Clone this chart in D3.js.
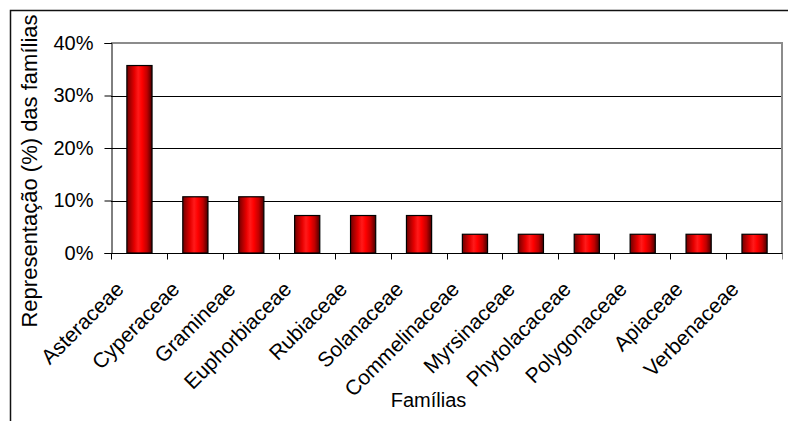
<!DOCTYPE html>
<html>
<head>
<meta charset="utf-8">
<script src="https://cdn.jsdelivr.net/npm/d3@7"></script>
<style>
  html, body { margin: 0; padding: 0; background: #fff; }
  svg { display: block; font-family: "Liberation Sans", Arial, sans-serif; }
</style>
</head>
<body>
<svg id="chart" width="789" height="421"></svg>
<script>
// Families and their share (%) of the surveyed species (n / 28)
const families = ["Asteraceae", "Cyperaceae", "Gramineae", "Euphorbiaceae", "Rubiaceae",
  "Solanaceae", "Commelinaceae", "Myrsinaceae", "Phytolacaceae", "Polygonaceae",
  "Apiaceae", "Verbenaceae"];
const shares = [35.71, 10.71, 10.71, 7.14, 7.14, 7.14, 3.57, 3.57, 3.57, 3.57, 3.57, 3.57];
const yTicks = [0, 10, 20, 30, 40];

const svg = d3.select("#chart");
const plot = { left: 111, right: 782, top: 43, bottom: 253 };
const FONT = "Liberation Sans, Arial, sans-serif";

// Gradient used for the bars: dark edges, bright red centre
const grad = svg.append("defs").append("linearGradient")
  .attr("id", "barFill").attr("x1", "0%").attr("x2", "100%").attr("y1", "0%").attr("y2", "0%");
[[0, "#6e0000"], [0.12, "#a00000"], [0.3, "#e60000"], [0.45, "#ff1a1a"], [0.6, "#ff0000"],
 [0.8, "#c00000"], [1, "#4a0000"]].forEach(([o, c]) =>
  grad.append("stop").attr("offset", o).attr("stop-color", c));

// Outer chart frame (extends past the visible edge)
svg.append("path")
  .attr("d", "M10.5,430 L10.5,10.5 L788,10.5")
  .attr("fill", "none").attr("stroke", "#111").attr("stroke-width", 1.5);

const x = d3.scaleBand().domain(families).range([plot.left, plot.right])
  .paddingInner(0.55).paddingOuter(0.275);
const y = d3.scaleLinear().domain([0, 40]).range([plot.bottom, plot.top]);

// Horizontal gridlines
svg.append("g").selectAll("line").data(yTicks.filter(t => t > 0 && t < 40)).join("line")
  .attr("x1", plot.left).attr("x2", plot.right)
  .attr("y1", d => Math.round(y(d)) + 0.5).attr("y2", d => Math.round(y(d)) + 0.5)
  .attr("stroke", "#000").attr("stroke-width", 1);

// Plot area border (top and right)
svg.append("path")
  .attr("d", `M${plot.left},${plot.top} L${plot.right},${plot.top} L${plot.right},${plot.bottom}`)
  .attr("fill", "none").attr("stroke", "#8c8c8c").attr("stroke-width", 2);

// Bars
svg.append("g").selectAll("rect").data(families).join("rect")
  .attr("x", d => x(d) + 0.5)
  .attr("y", (d, i) => y(shares[i]))
  .attr("width", x.bandwidth())
  .attr("height", (d, i) => y(0) - y(shares[i]))
  .attr("fill", "url(#barFill)")
  .attr("stroke", "#000").attr("stroke-width", 1.2);

// Y axis
const yAxis = svg.append("g").attr("transform", `translate(${plot.left + 0.5},0)`)
  .call(d3.axisLeft(y).tickValues(yTicks).tickFormat(d => d + "%").tickSize(7).tickPadding(11));
yAxis.attr("font-size", 20).attr("font-family", FONT);
yAxis.selectAll("text").attr("fill", "#000");
yAxis.selectAll("line, path").attr("stroke", "#000");

// X axis: ticks sit on category boundaries
const xAxis = svg.append("g").attr("transform", `translate(0,${plot.bottom + 0.5})`);
xAxis.append("line").attr("x1", plot.left).attr("x2", plot.right + 1).attr("stroke", "#000");
const step = x.step();
xAxis.selectAll("line.tick").data(d3.range(families.length + 1)).join("line")
  .attr("class", "tick")
  .attr("x1", i => Math.round(plot.left + i * step) + 0.5)
  .attr("x2", i => Math.round(plot.left + i * step) + 0.5)
  .attr("y1", 0).attr("y2", 6).attr("stroke", i => i === families.length ? "#8c8c8c" : "#000");

xAxis.selectAll("text").data(families).join("text")
  .attr("transform", d => `translate(${x(d) + x.bandwidth() / 2 - 14},${37}) rotate(-45)`)
  .attr("text-anchor", "end")
  .attr("font-size", 21).attr("font-family", FONT).attr("fill", "#000")
  .text(d => d);

// Axis titles
svg.append("text")
  .attr("transform", `translate(${37},${171}) rotate(-90)`)
  .attr("text-anchor", "middle").attr("font-size", 22).attr("font-family", FONT).attr("fill", "#000")
  .text("Representação (%) das famílias");

svg.append("text")
  .attr("x", 428.5).attr("y", 407)
  .attr("text-anchor", "middle").attr("font-size", 20).attr("font-family", FONT).attr("fill", "#000")
  .text("Famílias");
</script>
</body>
</html>
